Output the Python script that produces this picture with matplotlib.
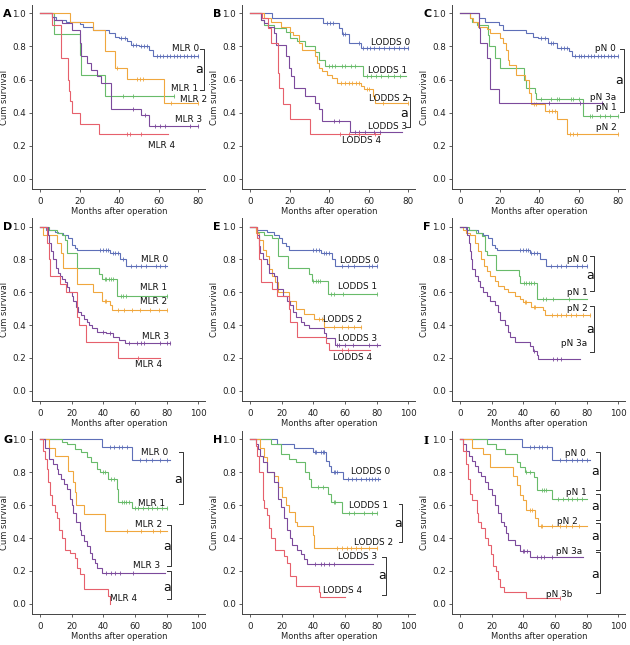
import matplotlib
matplotlib.use("Agg")
import matplotlib.pyplot as plt

# ---------------- data ----------------
# each curve: steps = [(event time, survival after event)], cens = censor times, end = last follow-up
# Panel A (MLR)
A0_steps = [(6, .98), (8, .96), (13, .95), (20, .935), (22, .92), (27, .90), (35, .88), (38, .86), (40, .85), (44, .83), (46, .81), (50, .80), (55, .78), (57, .74)]
A0_cens = [41, 43, 47, 48.5, 51, 52.5, 54, 59, 61, 62.5, 64.5, 66, 68, 69.5, 71, 73, 74.5, 76.5, 78, 80]
A0_end = 80
A1_steps = [(7, .875), (20, .75), (21, .625), (33, .50)]
A1_cens = [42, 47, 68]
A1_end = 68
A2_steps = [(15, .95), (27, .90), (33, .77), (38, .67), (44, .605), (63, .455)]
A2_cens = [39, 49, 50.5, 52, 66.5, 80]
A2_end = 80
A3_steps = [(6, .98), (7, .96), (11, .94), (16, .90), (20, .82), (21, .74), (24, .70), (26, .66), (29, .62), (31, .58), (36, .42), (51, .385), (55, .32)]
A3_cens = [47, 53, 58, 61, 63.5, 76, 80]
A3_end = 80
A4_steps = [(6, .93), (10.5, .73), (14, .60), (14.5, .53), (15, .47), (16, .40), (20, .33), (30, .27)]
A4_cens = [44, 45.5, 51]
A4_end = 65

# Panel B (LODDS)
B0_steps = [(11, .97), (37, .94), (45, .91), (46.5, .875), (50, .82), (56, .79)]
B0_cens = [39, 40.5, 42, 47, 48, 55, 57, 59, 61, 63, 65.5, 68, 70.5, 73, 75.5, 78, 80]
B0_end = 80
B1_steps = [(5.5, .96), (7, .93), (12, .91), (18, .89), (20.5, .85), (24, .83), (28, .80), (33, .765), (35, .72), (38, .68), (57, .62)]
B1_cens = [40, 41.5, 43, 46.5, 48, 51, 53, 59, 61.5, 64, 66.5, 70, 73, 76]
B1_end = 79
B2_steps = [(7, .97), (10.5, .95), (15.5, .92), (20, .89), (22, .87), (25, .82), (26.5, .78), (33, .74), (34, .70), (35, .67), (36.5, .65), (39, .63), (41.5, .61), (44, .58), (56, .56), (57.5, .54), (62.5, .50), (63.5, .455)]
B2_cens = [46, 48, 50, 51.5, 53.5, 55, 59, 60.5, 67.5, 80]
B2_end = 80
B3_steps = [(5.5, .96), (7, .94), (9, .92), (12, .88), (13, .81), (18, .74), (19.5, .67), (21, .62), (22.5, .55), (28, .50), (33, .46), (35, .42), (36.5, .35), (50.5, .28)]
B3_cens = [42.5, 45, 53, 55, 58, 63, 66]
B3_end = 77
B4_steps = [(6, .97), (9, .91), (10.5, .82), (14, .64), (14.5, .55), (16.5, .45), (20.5, .36), (30.5, .27)]
B4_cens = [45.5, 50, 55, 63.5]
B4_end = 66

# Panel C (pN)
C0_steps = [(9.5, .97), (12.5, .95), (19.5, .93), (22, .90), (33.5, .88), (37, .86), (39.5, .85), (44.5, .82), (49, .79), (55, .77), (56.5, .74)]
C0_cens = [41, 43, 46, 47, 51, 52.5, 54, 58, 60, 61.5, 63, 65, 66.5, 68, 70, 71.5, 73, 75, 76.5, 78, 80]
C0_end = 80
C1_steps = [(5, .97), (6, .95), (8.5, .93), (14, .87), (14.5, .80), (17.5, .73), (20, .67), (32.5, .60), (33.5, .55), (38, .52), (38.7, .48), (62.5, .38)]
C1_cens = [41, 46, 49, 50, 56, 57, 60.5, 66, 67, 71, 73.5, 76, 80]
C1_end = 80
C2_steps = [(5, .97), (6.5, .95), (9, .92), (13.5, .905), (15, .88), (20, .85), (22, .82), (23.5, .78), (24.5, .72), (25, .69), (28.5, .63), (33, .60), (35, .52), (36, .45), (43, .41), (49, .36), (54, .27)]
C2_cens = [37.5, 38.5, 45, 46.5, 48, 55.5, 57, 59, 80]
C2_end = 80
C3_steps = [(9.5, .91), (10, .82), (13.5, .73), (15, .545), (19.5, .455)]
C3_cens = [45, 61, 72]
C3_end = 72

# Panel D (MLR)
D0_steps = [(4, .98), (9.5, .97), (11.5, .96), (14.5, .95), (18, .93), (20, .89), (22, .87), (23.5, .855), (44, .84), (50.5, .80), (54.5, .76)]
D0_cens = [38, 40, 42, 43, 46, 47.5, 49, 52.5, 57.5, 60.5, 63.5, 67, 73, 76, 79]
D0_end = 80
D1_steps = [(6, .98), (10.5, .96), (14, .95), (16, .92), (17, .84), (23.5, .75), (37, .71), (39, .68), (48.5, .58)]
D1_cens = [41, 42, 43.5, 45, 46, 51, 52.5, 54.5, 80]
D1_end = 80
D2_steps = [(2, .95), (10.5, .90), (13.5, .84), (14.5, .75), (23.5, .65), (33.5, .60), (39, .55), (44, .52), (45.5, .49)]
D2_cens = [41, 42, 49, 53, 58, 63, 69.5, 75, 80]
D2_end = 80
D3_steps = [(5, .95), (6, .90), (7, .85), (8, .80), (10, .75), (11.5, .72), (12.5, .70), (14, .68), (16, .66), (17, .63), (18.5, .60), (20, .58), (21, .55), (23, .51), (24, .48), (26, .46), (28, .44), (29.5, .42), (31, .40), (33, .38), (36, .36), (42, .35), (46, .33), (50, .31), (54, .29)]
D3_cens = [40, 44, 56, 61, 63.5, 66, 76, 80, 82]
D3_end = 82
D4_steps = [(4.2, .90), (5.5, .80), (6.5, .70), (12.5, .65), (16.5, .60), (23.5, .45), (24.5, .40), (29, .30), (49.5, .20)]
D4_cens = [62]
D4_end = 76

# Panel E (LODDS)
E0_steps = [(3.5, .98), (11, .97), (15, .95), (18.5, .93), (20, .90), (22.5, .88), (24.5, .855), (45, .84), (52, .80), (54, .76)]
E0_cens = [39.5, 41.5, 43.5, 46.5, 48, 50, 58, 62, 66, 75, 77, 80]
E0_end = 80
E1_steps = [(4.5, .97), (9, .95), (14, .93), (17.5, .82), (24, .75), (37.5, .71), (39, .67), (49, .59)]
E1_cens = [40, 41.5, 43, 44.5, 51, 53, 59, 80]
E1_end = 80
E2_steps = [(3.5, .96), (5.5, .92), (8, .86), (10, .82), (12, .74), (14, .70), (16, .66), (18, .60), (24.5, .55), (29, .50), (34, .47), (40.5, .44), (46.5, .39)]
E2_cens = [43.5, 45.5, 53, 58, 62, 66, 70]
E2_end = 70
E3_steps = [(4.5, .95), (5.5, .88), (6.5, .84), (8.5, .80), (10.5, .77), (12, .72), (15, .70), (17, .62), (21, .58), (23.5, .55), (25.5, .52), (27, .48), (29, .45), (32, .42), (34, .40), (37, .38), (46.5, .35), (48, .32), (54, .28)]
E3_cens = [55, 56.5, 60, 65, 75, 80]
E3_end = 82
E4_steps = [(4.5, .93), (6, .80), (7, .66), (14, .62), (17, .58), (24.5, .50), (25.5, .42), (30, .33), (48, .29), (50, .25)]
E4_cens = [58, 62]
E4_end = 76

# Panel F (pN)
F0_steps = [(4, .98), (11.5, .96), (14.5, .95), (18, .93), (20, .89), (22, .87), (23.5, .855), (44, .84), (50.5, .80), (54.5, .76)]
F0_cens = [38, 40, 42, 43, 45, 47, 48.5, 57.5, 61, 64, 67, 74, 77, 80]
F0_end = 80
F1_steps = [(6, .98), (10, .96), (14, .94), (16, .85), (17, .83), (23, .735), (37, .70), (38, .655), (48.5, .56)]
F1_cens = [40.5, 42, 43.5, 45, 46.5, 52.5, 54.5, 58.5, 69]
F1_end = 80
F2_steps = [(2, .98), (4, .96), (6.5, .95), (9.5, .90), (11.5, .85), (13.5, .80), (15, .76), (17, .73), (19, .70), (22, .67), (24, .64), (27.5, .62), (30.5, .60), (34.5, .58), (38, .56), (40, .54), (45, .51), (52.5, .49), (53.5, .46)]
F2_cens = [41, 42, 46.5, 47.5, 58, 61, 64, 67, 70, 73, 78, 82]
F2_end = 82
F3_steps = [(4.5, .95), (5.5, .90), (6.5, .85), (7, .80), (7.5, .74), (9.5, .70), (11.5, .67), (12.5, .63), (14.5, .60), (17, .58), (19, .55), (22, .52), (24, .48), (25.5, .43), (28.5, .40), (30.5, .36), (31.5, .33), (34.5, .30), (44, .27), (46, .24), (48.5, .22), (49.5, .195)]
F3_cens = [47, 59, 61, 63.5]
F3_end = 76

# Panel G (MLR)
G0_steps = [(39, .955), (58, .875)]
G0_cens = [44, 47, 50, 52, 55, 63, 67, 71, 76, 80]
G0_end = 82
G1_steps = [(14, .985), (17, .97), (22, .94), (26, .92), (29.5, .89), (32.5, .86), (36, .82), (38, .80), (43, .76), (48.5, .70), (49.5, .62), (58, .58)]
G1_cens = [40, 41, 45, 46.5, 52, 53, 54.5, 56, 60, 62, 65, 68, 71, 74, 77, 80]
G1_end = 80
G2_steps = [(5.5, .95), (9.5, .90), (18, .81), (21, .74), (22, .68), (23, .60), (27.5, .545), (41, .44)]
G2_cens = [55, 64, 71.5, 76]
G2_end = 80
G3_steps = [(3, .95), (6, .88), (8, .85), (10.5, .82), (11.5, .79), (13.5, .76), (15, .73), (17, .70), (19, .64), (20, .60), (21, .55), (23, .50), (25, .45), (26, .42), (28, .38), (30, .35), (31.5, .31), (33, .27), (34.5, .25), (36, .22), (39, .19)]
G3_cens = [42, 45, 47.5, 50.5, 59]
G3_end = 79
G4_steps = [(2, .93), (3, .88), (4.2, .82), (5, .74), (6.3, .66), (7.4, .60), (9.5, .56), (10.5, .52), (12, .45), (13.7, .40), (15.5, .33), (19, .31), (22, .28), (23.5, .22), (25, .18), (27.5, .09), (43, .05), (44, 0.0)]
G4_cens = []
G4_end = 44

# Panel H (LODDS)
H0_steps = [(17, .97), (28, .95), (39.5, .92), (48, .87), (50, .84), (51, .80), (58.5, .76)]
H0_cens = [41, 42, 45, 46, 47, 53, 54, 55, 62, 64.5, 67, 70, 73, 75, 77, 79, 81]
H0_end = 82
H1_steps = [(13, .97), (19.5, .91), (24.5, .88), (29, .86), (35, .80), (37, .76), (38.5, .71), (49, .67), (51, .62), (58, .555)]
H1_cens = [43, 46, 53, 54, 62.5, 66, 72, 77, 80]
H1_end = 80
H2_steps = [(6.5, .95), (9, .89), (11, .80), (15, .78), (17.5, .71), (20.5, .65), (22.5, .60), (24.5, .56), (28.5, .50), (30, .47), (39.5, .42), (40.5, .34)]
H2_cens = [55, 58, 61, 64, 67, 70, 75, 80]
H2_end = 80
H3_steps = [(3.5, .97), (5, .94), (6.5, .90), (8.5, .86), (11, .80), (15, .74), (17.5, .64), (19.5, .59), (21.5, .52), (23.5, .45), (25.5, .40), (26.5, .36), (30, .33), (32, .30), (34, .27), (36, .245)]
H3_cens = [41, 45, 47, 50, 53]
H3_end = 78
H4_steps = [(3.5, .96), (4.5, .90), (6, .80), (8, .63), (9, .58), (11, .54), (12, .46), (13, .40), (16, .33), (21.5, .29), (23.5, .25), (25.5, .17), (29, .11), (43.5, .07), (44.5, .04)]
H4_cens = []
H4_end = 60

# Panel I (pN)
I0_steps = [(39, .955), (58, .875)]
I0_cens = [44, 47, 50, 52, 55, 63, 67, 71, 74, 77, 80]
I0_end = 82
I1_steps = [(17, .97), (23, .94), (28.5, .91), (36, .86), (38, .83), (41, .80), (46.5, .77), (48.5, .69), (58, .635)]
I1_cens = [42, 44, 52, 53, 54.5, 62, 65, 68, 71, 74, 77]
I1_end = 80
I2_steps = [(7.5, .95), (14.5, .91), (19, .83), (33.5, .78), (36, .72), (38, .66), (40, .63), (42, .57), (47.5, .52), (49.5, .47)]
I2_cens = [44, 45.5, 51, 52, 58, 63, 67, 71, 75]
I2_end = 80
I3_steps = [(2, .97), (4, .93), (6, .90), (7.5, .87), (9.5, .84), (11.5, .80), (13.5, .78), (15.5, .74), (18, .70), (20, .66), (22, .60), (24, .55), (26, .50), (27.5, .47), (29, .43), (30.5, .39), (34.5, .36), (38, .32), (44, .285)]
I3_cens = [39.5, 40.5, 42.5, 48.5, 51, 53, 58]
I3_end = 78
I4_steps = [(2, .93), (3.5, .85), (5, .76), (6.3, .67), (7.5, .63), (10.5, .55), (11.5, .50), (13.5, .46), (16, .40), (18, .36), (19.5, .30), (21, .23), (23, .20), (24, .15), (25.3, .10), (27.5, .07), (42, .035)]
I4_cens = [63]
I4_end = 63

MLR_labels = ["MLR 0", "MLR 1", "MLR 2", "MLR 3", "MLR 4"]
LODDS_labels = ["LODDS 0", "LODDS 1", "LODDS 2", "LODDS 3", "LODDS 4"]
PN_labels_C = ["pN 0", "pN 1", "pN 2", "pN 3a"]
PN_labels_F = ["pN 0", "pN 1", "pN 2", "pN 3a"]
PN_labels_I = ["pN 0", "pN 1", "pN 2", "pN 3a", "pN 3b"]
panel_letters = ["A", "B", "C", "D", "E", "F", "G", "H", "I"]
x_ticks_short = [0, 20, 40, 60, 80]
x_ticks_long = [0, 20, 40, 60, 80, 100]
y_ticks = [0.0, 0.2, 0.4, 0.6, 0.8, 1.0]

# ---------------- style / layout ----------------
COLORS = ["#5e6fb8", "#68bb6a", "#f0a73e", "#7c4a9c", "#e6606c"]
FS = 6.0
AXC = "#444444"

# label positions (x, y) in data coords for each curve label
LABPOS = {
    "A": [(73.6, .79), (73.2, .545), (77.8, .48), (75.3, .36), (61.8, .20)],
    "B": [(71.0, .824), (69.4, .657), (70.4, .485), (69.4, .317), (56.7, .232)],
    "C": [(73.6, .79), (73.9, .43), (74.1, .31), (72.6, .49)],
    "D": [(72.6, .80), (71.6, .628), (71.6, .543), (73.1, .33), (68.4, .161)],
    "E": [(69.1, .796), (67.8, .635), (58.3, .435), (68.2, .319), (64.6, .204)],
    "F": [(74.1, .80), (74.1, .598), (74.1, .50), (72.0, .286)],
    "G": [(72.6, .919), (70.7, .611), (68.4, .48), (67.4, .231), (53.1, .034)],
    "H": [(76.2, .804), (74.7, .597), (78.3, .375), (67.8, .287), (58.5, .081)],
    "I": [(73.1, .915), (73.7, .676), (67.8, .50), (68.6, .318), (62.5, .059)],
}
# brackets: (x, y_top, y_bottom, x_of_a, y_of_a)
BRACKETS = {
    "A": [(82.8, .782, .539, 80.8, .663)],
    "B": [(81.1, .495, .313, 77.8, .394)],
    "C": [(82.8, .782, .404, 80.8, .596)],
    "D": [], "E": [],
    "F": [(84.6, .819, .608, 82.1, .704), (84.6, .517, .235, 82.1, .376)],
    "G": [(90.1, .921, .605, 87.4, .753), (82.5, .48, .227, 80.0, .348), (82.5, .202, .030, 80.0, .10)],
    "H": [(96.2, .605, .374, 93.7, .49), (85.7, .287, .055, 83.2, .17)],
    "I": [(88.4, .921, .692, 85.3, .804), (88.4, .666, .51, 85.3, .591), (88.4, .49, .328, 85.3, .409), (88.4, .312, .065, 85.3, .176)],
}

PANELS = {
    "A": ([(A0_steps, A0_cens, A0_end), (A1_steps, A1_cens, A1_end), (A2_steps, A2_cens, A2_end), (A3_steps, A3_cens, A3_end), (A4_steps, A4_cens, A4_end)], MLR_labels, [0, 1, 2, 3, 4]),
    "B": ([(B0_steps, B0_cens, B0_end), (B1_steps, B1_cens, B1_end), (B2_steps, B2_cens, B2_end), (B3_steps, B3_cens, B3_end), (B4_steps, B4_cens, B4_end)], LODDS_labels, [0, 1, 2, 3, 4]),
    "C": ([(C0_steps, C0_cens, C0_end), (C1_steps, C1_cens, C1_end), (C2_steps, C2_cens, C2_end), (C3_steps, C3_cens, C3_end)], PN_labels_C, [0, 1, 2, 3]),
    "D": ([(D0_steps, D0_cens, D0_end), (D1_steps, D1_cens, D1_end), (D2_steps, D2_cens, D2_end), (D3_steps, D3_cens, D3_end), (D4_steps, D4_cens, D4_end)], MLR_labels, [0, 1, 2, 3, 4]),
    "E": ([(E0_steps, E0_cens, E0_end), (E1_steps, E1_cens, E1_end), (E2_steps, E2_cens, E2_end), (E3_steps, E3_cens, E3_end), (E4_steps, E4_cens, E4_end)], LODDS_labels, [0, 1, 2, 3, 4]),
    "F": ([(F0_steps, F0_cens, F0_end), (F1_steps, F1_cens, F1_end), (F2_steps, F2_cens, F2_end), (F3_steps, F3_cens, F3_end)], PN_labels_F, [0, 1, 2, 3]),
    "G": ([(G0_steps, G0_cens, G0_end), (G1_steps, G1_cens, G1_end), (G2_steps, G2_cens, G2_end), (G3_steps, G3_cens, G3_end), (G4_steps, G4_cens, G4_end)], MLR_labels, [0, 1, 2, 3, 4]),
    "H": ([(H0_steps, H0_cens, H0_end), (H1_steps, H1_cens, H1_end), (H2_steps, H2_cens, H2_end), (H3_steps, H3_cens, H3_end), (H4_steps, H4_cens, H4_end)], LODDS_labels, [0, 1, 2, 3, 4]),
    "I": ([(I0_steps, I0_cens, I0_end), (I1_steps, I1_cens, I1_end), (I2_steps, I2_cens, I2_end), (I3_steps, I3_cens, I3_end), (I4_steps, I4_cens, I4_end)], PN_labels_I, [0, 1, 2, 3, 4]),
}

W, H = 630, 645
fig = plt.figure(figsize=(W / 100, H / 100), dpi=100)

COL_LEFT = [32.3, 242.3, 452.3]
AX_W = 173
ROWS = [(5.1, 189.0), (218.4, 401.0), (431.1, 614.0)]
YLIM = (-0.062, 1.05)


def level_at(steps, t):
    lv = 1.0
    for st, sv in steps:
        if st <= t:
            lv = sv
    return lv


def draw_km(ax, steps, cens, end, color):
    tt = [0] + [s[0] for s in steps] + [end]
    yy = [1.0] + [s[1] for s in steps] + [steps[-1][1]]
    ax.step(tt, yy, where="post", color=color, lw=0.8, solid_joinstyle="miter")
    if cens:
        cy = [level_at(steps, c) for c in cens]
        ax.plot(cens, cy, ls="none", marker="|", ms=3.2, mew=0.6, color=color)


for i, key in enumerate(panel_letters):
    r, c = divmod(i, 3)
    top, bot = ROWS[r]
    left = COL_LEFT[c]
    ax = fig.add_axes([left / W, 1 - bot / H, AX_W / W, (bot - top) / H])
    if r == 0:
        ppm = 158 / 80.0
        ticks = x_ticks_short
    else:
        ppm = 158.3 / 100.0
        ticks = x_ticks_long
    xl = -7.7 / ppm
    xr = (AX_W - 7.7) / ppm
    ax.set_xlim(xl, xr)
    ax.set_ylim(*YLIM)

    curves, labels, cidx = PANELS[key]
    for (steps, cens, end), ci in zip(curves, cidx):
        draw_km(ax, steps, cens, end, COLORS[ci])
    for lab, (lx, ly) in zip(labels, LABPOS[key]):
        ax.text(lx, ly, lab, fontsize=FS + 0.4, ha="center", va="center", color="#111111", clip_on=False)
    tick = 2.0 if r == 0 else 2.3
    for (bx, yt, yb, axx, ayy) in BRACKETS[key]:
        ax.plot([bx - tick, bx, bx, bx - tick], [yt, yt, yb, yb], color="#333333", lw=0.7, clip_on=False)
        ax.text(axx, ayy, "a", fontsize=9, ha="center", va="center", color="#111111", clip_on=False)

    for s in ["top", "right"]:
        ax.spines[s].set_visible(False)
    for s in ["left", "bottom"]:
        ax.spines[s].set_color(AXC)
        ax.spines[s].set_linewidth(0.7)
    ax.set_xticks(ticks)
    ax.set_yticks(y_ticks)
    ax.set_yticklabels(["%.1f" % v for v in y_ticks])
    ax.tick_params(axis="both", direction="out", length=2.5, width=0.6, color=AXC,
                   labelsize=FS + 0.3, labelcolor="#222222")
    ax.tick_params(axis="x", pad=3)
    ax.tick_params(axis="y", pad=2)
    ax.set_xlabel("Months after operation", fontsize=FS, color="#222222", labelpad=1)
    ax.set_ylabel("Cum survival", fontsize=FS, color="#222222", labelpad=2)

    fam = "DejaVu Serif" if key == "I" else "DejaVu Sans"
    fig.text((left - 29) / W, 1 - (top + 9) / H, key, fontsize=8, fontweight="bold",
             family=fam, ha="left", va="center", color="#000000")

fig.savefig("out.png", dpi=100)
